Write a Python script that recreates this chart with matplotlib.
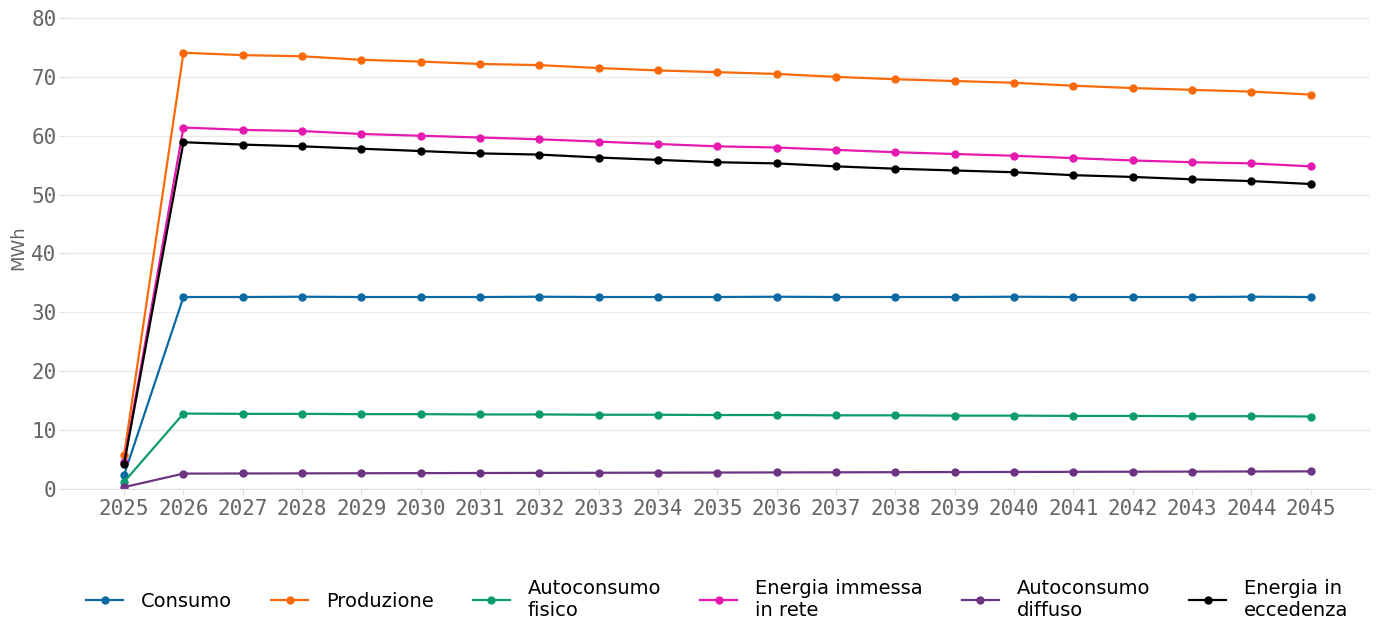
import numpy as np
import matplotlib.pyplot as plt

years = list(range(2025, 2046))
consumo = [2.4] + [32.6, 32.6, 32.65, 32.6, 32.6, 32.6, 32.65, 32.6, 32.6, 32.6,
                   32.65, 32.6, 32.6, 32.6, 32.65, 32.6, 32.6, 32.6, 32.65, 32.6]
produzione = [5.8, 74.1, 73.7, 73.5, 72.9, 72.6, 72.2, 72.0, 71.5, 71.1, 70.8,
              70.5, 70.0, 69.6, 69.3, 69.0, 68.5, 68.1, 67.8, 67.5, 67.0]
autoconsumo_fisico = [1.2, 12.8, 12.75, 12.75, 12.7, 12.7, 12.65, 12.65, 12.6, 12.6, 12.55,
                      12.55, 12.5, 12.5, 12.45, 12.45, 12.4, 12.4, 12.35, 12.35, 12.3]
energia_immessa = [4.6, 61.4, 61.0, 60.8, 60.3, 60.0, 59.7, 59.4, 59.0, 58.6, 58.2,
                   58.0, 57.6, 57.2, 56.9, 56.6, 56.2, 55.8, 55.5, 55.3, 54.8]
autoconsumo_diffuso = [0.3, 2.6, 2.62, 2.64, 2.66, 2.68, 2.7, 2.72, 2.74, 2.76, 2.78,
                       2.8, 2.82, 2.84, 2.86, 2.88, 2.9, 2.92, 2.94, 2.96, 2.98]
energia_eccedenza = [4.3, 58.9, 58.5, 58.2, 57.8, 57.4, 57.0, 56.8, 56.3, 55.9, 55.5,
                     55.3, 54.8, 54.4, 54.1, 53.8, 53.3, 53.0, 52.6, 52.3, 51.8]

series = [
    ("Consumo", consumo, "#0a6aa1"),
    ("Produzione", produzione, "#fa6a0a"),
    ("Autoconsumo\nfisico", autoconsumo_fisico, "#0b9b6e"),
    ("Energia immessa\nin rete", energia_immessa, "#e619b0"),
    ("Autoconsumo\ndiffuso", autoconsumo_diffuso, "#6c3483"),
    ("Energia in\neccedenza", energia_eccedenza, "#000000"),
]

fig = plt.figure(figsize=(13.79, 6.26), dpi=100)
ax = fig.add_axes([0.047, 0.219, 0.9465, 0.771])

for name, vals, col in series:
    ax.plot(years, vals, color=col, lw=1.6, marker="o", markersize=5, label=name)

ax.set_xlim(2024, 2046)
ax.set_ylim(0, 82)
ax.set_xticks(years)
ax.set_yticks(range(0, 81, 10))
ax.grid(axis="y", color="#ebebeb", lw=1)
ax.set_axisbelow(True)
for s in ["top", "right", "left"]:
    ax.spines[s].set_visible(False)
ax.spines["bottom"].set_color("#dddddd")
ax.tick_params(colors="#dddddd", length=4, labelcolor="#666666", labelsize=15)
ax.tick_params(axis="y", pad=2)
for lab in ax.get_xticklabels() + ax.get_yticklabels():
    lab.set_family("DejaVu Sans Mono")
ax.set_ylabel("MWh", color="#666666", fontsize=13, labelpad=3)

ax.legend(loc="upper center", bbox_to_anchor=(0.5, -0.15), ncol=6, frameon=False,
          fontsize=14, handlelength=1.9, columnspacing=2.0, handletextpad=0.93)

fig.savefig("out.png")
